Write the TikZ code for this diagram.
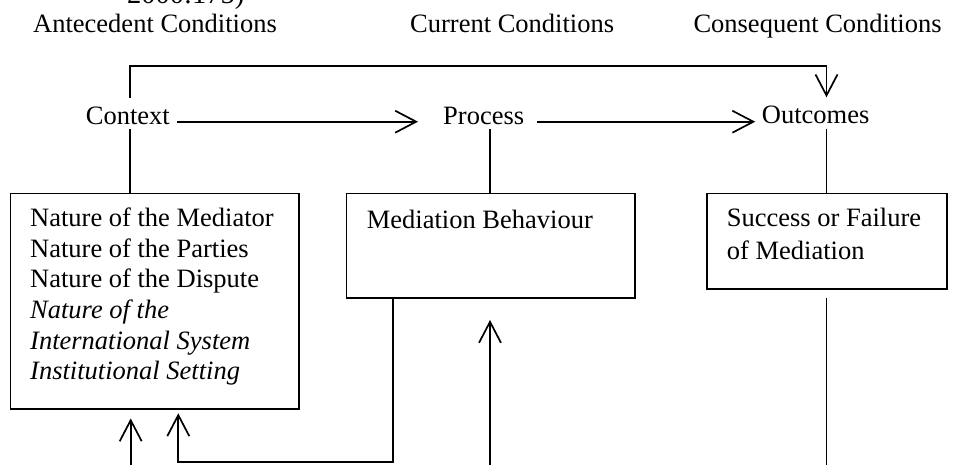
\documentclass[tikz,border=0pt]{standalone}
\usepackage{fontspec}
\setmainfont{Liberation Serif}
\usetikzlibrary{arrows.meta,calc}
\begin{document}
\begin{tikzpicture}[x=1pt,y=-1pt,
  every node/.style={font=\fontsize{26.5pt}{30.6pt}\selectfont, inner sep=0pt},
  lab/.style={anchor=base west, text height=26pt, text depth=5pt},
  txt/.style={anchor=base west},
  ln/.style={line width=1.7pt},
  box/.style={draw, line width=1.7pt, anchor=north west},
  arr/.style={ln, -{Straight Barb[length=21pt, width=22pt]}}
]
\useasboundingbox (0,0) rectangle (959,464);
\begin{scope}
\clip (0,0) rectangle (959,464);
\node[anchor=base west, font=\fontsize{28.5pt}{30pt}\selectfont] (cite) at (127,3.2) {2000:175)};
\end{scope}

% headers
\node[txt] (hA) at (33,32.3) {Antecedent Conditions};
\node[txt] (hC) at (410,32.3) {Current Conditions};
\node[txt] (hQ) at (693.3,32.3) {Consequent Conditions};

% stage labels
\node[lab, anchor=base east] (ctx) at (170,124) {Context};
\node[lab] (proc) at (443,124) {Process};
\node[lab] (outc) at (761.7,123.5) {Outcomes};

% boxes
\node[box, minimum width=288.5pt, minimum height=215.3pt] (ante) at (9.5,192.7) {};
\node[box, minimum width=288.3pt, minimum height=104.3pt] (beh) at (345.7,192.7) {};
\node[box, minimum width=240pt, minimum height=95.6pt] (succ) at (706,192.7) {};

% box texts
\node[txt] (a1) at (30,226.7) {Nature of the Mediator};
\node[txt] (a2) at (30,257.3) {Nature of the Parties};
\node[txt] (a3) at (30,287.9) {Nature of the Dispute};
\node[txt] (a4) at (30,318.5) {\itshape Nature of the};
\node[txt] (a5) at (30,349.1) {\itshape International System};
\node[txt] (a6) at (30,379.7) {\itshape Institutional Setting};
\node[txt] (b1t) at (366.7,228) {Mediation Behaviour};
\node[txt] (c1) at (726.7,226.7) {Success or Failure};
\node[txt] (c2) at (726.7,259) {of Mediation};

% helper coordinates
\coordinate (tl) at (130,65.7);
\coordinate (tr) at (826.5,65.7);
\coordinate (px) at (490,0);
\coordinate (bL) at (130.7,466);
\coordinate (bM) at (490,466);
\coordinate (bR) at (826.5,466);
\coordinate (fb) at (393.3,461.7);
\coordinate (fbl) at (178.3,413.3);

% top feedback
\draw[ln] (ctx.north -| tl) -- (tl) -- (tr);
\draw[arr] (tr) -- (outc.north -| tr);

% horizontal arrows
\draw[arr] ($(ctx.base east)+(7,-2.3)$) -- ($(proc.base west)+(-25,-2.3)$);
\draw[arr] ($(proc.base east)+(13,-2.3)$) -- ($(outc.base west)+(-6.5,-1.8)$);

% verticals to boxes
\draw[ln] (ctx.south -| tl) -- (ante.north -| tl);
\draw[ln] (proc.south -| px) -- (beh.north -| px);
\draw[ln] (outc.south -| tr) -- (succ.north -| tr);

% bottom connectors
\draw[arr] (bL) -- ($(ante.south -| bL)+(0,8.7)$);
\draw[arr] (beh.south -| fb) -- (fb) -| (fbl);
\draw[arr] (bM) -- ($(beh.south -| bM)+(0,21.3)$);
\draw[ln] ($(succ.south -| bR)+(0,8.4)$) -- (bR);
\end{tikzpicture}
\end{document}
